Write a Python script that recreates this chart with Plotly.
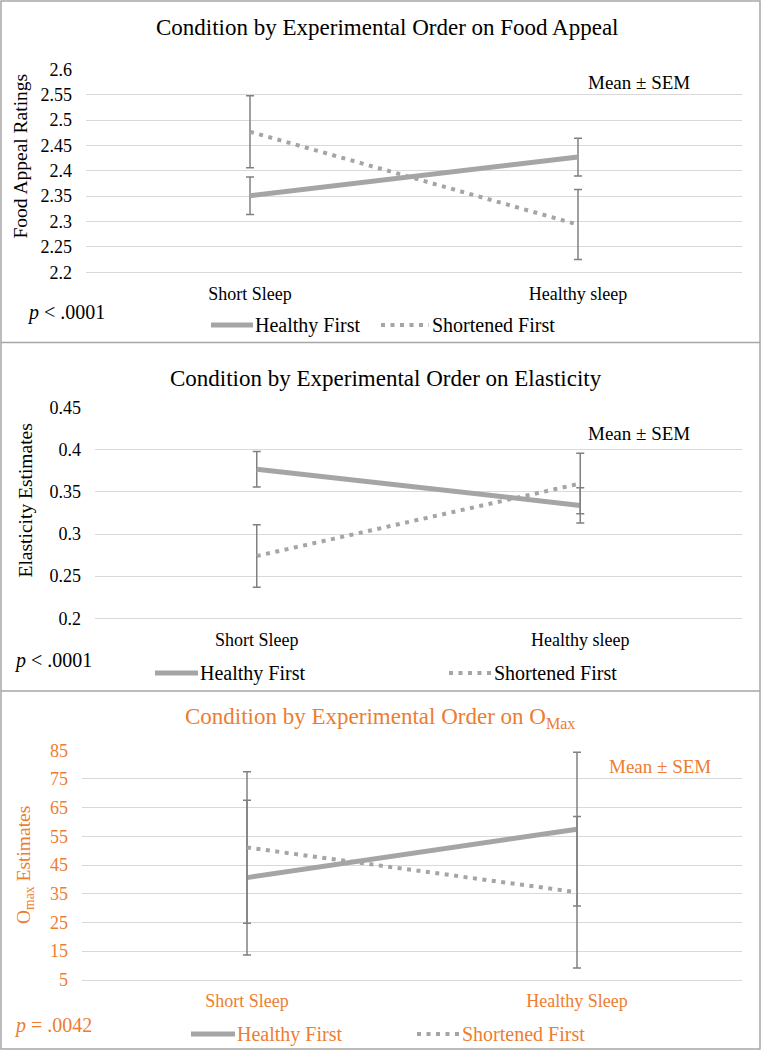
import plotly.graph_objects as go

# ---------------- data ----------------
categories_1 = ["Short Sleep", "Healthy sleep"]
categories_3 = ["Short Sleep", "Healthy Sleep"]

food_healthy_first = [2.351, 2.427]
food_healthy_first_sem = [0.037, 0.037]
food_shortened_first = [2.477, 2.294]
food_shortened_first_sem = [0.071, 0.069]

elast_healthy_first = [0.377, 0.334]
elast_healthy_first_sem = [0.021, 0.021]
elast_shortened_first = [0.274, 0.360]
elast_shortened_first_sem = [0.037, 0.036]

omax_healthy_first = [40.6, 57.5]
omax_healthy_first_sem = [27.0, 26.8]
omax_shortened_first = [51.1, 35.5]
omax_shortened_first_sem = [26.4, 26.4]

food_ticks = [2.2, 2.25, 2.3, 2.35, 2.4, 2.45, 2.5, 2.55, 2.6]
food_ticktext = ["2.2", "2.25", "2.3", "2.35", "2.4", "2.45", "2.5", "2.55", "2.6"]
elast_ticks = [0.2, 0.25, 0.3, 0.35, 0.4, 0.45]
elast_ticktext = ["0.2", "0.25", "0.3", "0.35", "0.4", "0.45"]
omax_ticks = [5, 15, 25, 35, 45, 55, 65, 75, 85]
omax_ticktext = ["5", "15", "25", "35", "45", "55", "65", "75", "85"]

series_names = ["Healthy First", "Shortened First"]

# ---------------- style ----------------
W, H = 761, 1050
FONT = "Liberation Serif"
BLACK = "#000000"
ORANGE = "#ED7D31"
LINE = "#A5A5A5"
ERR = "#808080"
GRID = "#D9D9D9"
FRAME = "#A6A6A6"
DOT = "4px,5.5px"


def px(x):
    return x / W


def py(y):
    return 1 - y / H


fig = go.Figure()

panels = [
    dict(cats=categories_1, hf=food_healthy_first, hfe=food_healthy_first_sem,
         sf=food_shortened_first, sfe=food_shortened_first_sem,
         xa="x", ya="y"),
    dict(cats=categories_1, hf=elast_healthy_first, hfe=elast_healthy_first_sem,
         sf=elast_shortened_first, sfe=elast_shortened_first_sem,
         xa="x2", ya="y2"),
    dict(cats=categories_3, hf=omax_healthy_first, hfe=omax_healthy_first_sem,
         sf=omax_shortened_first, sfe=omax_shortened_first_sem,
         xa="x3", ya="y3"),
]

for p in panels:
    fig.add_trace(go.Scatter(
        x=p["cats"], y=p["hf"], name=series_names[0], mode="lines",
        line=dict(color=LINE, width=5),
        error_y=dict(type="data", array=p["hfe"], visible=True,
                     color=ERR, thickness=1.5, width=4),
        xaxis=p["xa"], yaxis=p["ya"], showlegend=False))
    fig.add_trace(go.Scatter(
        x=p["cats"], y=p["sf"], name=series_names[1], mode="lines",
        line=dict(color=LINE, width=4, dash=DOT),
        error_y=dict(type="data", array=p["sfe"], visible=True,
                     color=ERR, thickness=1.5, width=4),
        xaxis=p["xa"], yaxis=p["ya"], showlegend=False))

# ---------------- axes ----------------
def xaxis(domain, anchor, color):
    return dict(domain=domain, anchor=anchor, type="category", range=[-0.5, 1.5],
                showgrid=False, zeroline=False, showline=True, linecolor=GRID,
                linewidth=1, ticks="", ticklabelstandoff=5, automargin=False,
                tickfont=dict(family=FONT, size=18, color=color), fixedrange=True)


def yaxis(domain, anchor, rng, tv, tt, color):
    return dict(domain=domain, anchor=anchor, range=rng, tickvals=tv, ticktext=tt,
                showgrid=True, gridcolor=GRID, gridwidth=1, zeroline=False,
                showline=False, ticks="", ticklabelstandoff=13, automargin=False,
                tickfont=dict(family=FONT, size=18, color=color), fixedrange=True)


fig.update_layout(
    xaxis=xaxis([px(86), px(742)], "y", BLACK),
    yaxis=yaxis([py(272.3), py(69.3)], "x", [2.2, 2.6], food_ticks, food_ticktext, BLACK),
    xaxis2=xaxis([px(95), px(742)], "y2", BLACK),
    yaxis2=yaxis([py(618.3), py(407.7)], "x2", [0.2, 0.45], elast_ticks, elast_ticktext, BLACK),
    xaxis3=xaxis([px(82), px(742)], "y3", ORANGE),
    yaxis3=yaxis([py(979.7), py(750.3)], "x3", [5, 85], omax_ticks, omax_ticktext, ORANGE),
)

# ---------------- text ----------------
ann = []


def text(t, x, y, size, color, xanchor="center", angle=0):
    ann.append(dict(text=t, x=px(x), y=py(y), xref="paper", yref="paper",
                    xanchor=xanchor, yanchor="middle", showarrow=False,
                    textangle=angle,
                    font=dict(family=FONT, size=size, color=color)))


# titles
text("Condition by Experimental Order on Food Appeal", 387, 28, 23, BLACK)
text("Condition by Experimental Order on Elasticity", 386, 378, 23, BLACK)
text("Condition by Experimental Order on O<sub>Max</sub>", 380, 718, 23, ORANGE)

# y axis titles
text("Food Appeal Ratings", 20, 156.5, 19.5, BLACK, angle=-90)
text("Elasticity Estimates", 25, 500.5, 19.5, BLACK, angle=-90)
text("O<sub>max</sub> Estimates", 25, 865, 19.5, ORANGE, angle=-90)

# Mean ± SEM
text("Mean ± SEM", 638.5, 82, 19, BLACK)
text("Mean ± SEM", 638.5, 433, 19, BLACK)
text("Mean ± SEM", 659.5, 766, 19, ORANGE)

# p values
text("<i>p</i> &lt; .0001", 25, 312, 20, BLACK, xanchor="left")
text("<i>p</i> &lt; .0001", 12, 660, 20, BLACK, xanchor="left")
text("<i>p</i> = .0042", 12, 1025, 20, ORANGE, xanchor="left")

# legends (sample line + label)
shapes = []
legend_rows = [
    # y, hf line x0, x1, sf line x0, x1, color
    (325, 211, 253, 381, 429, BLACK),
    (673, 155, 198, 449, 491, BLACK),
    (1034, 191, 235, 417, 459, ORANGE),
]
for (ly, a0, a1, b0, b1, col) in legend_rows:
    shapes.append(dict(type="line", xref="paper", yref="paper",
                       x0=px(a0), x1=px(a1), y0=py(ly), y1=py(ly),
                       line=dict(color=LINE, width=5)))
    shapes.append(dict(type="line", xref="paper", yref="paper",
                       x0=px(b0), x1=px(b1), y0=py(ly), y1=py(ly),
                       line=dict(color=LINE, width=4, dash=DOT)))
    text(series_names[0], a1, ly, 20, col, xanchor="left")
    text(series_names[1], b1 + 1, ly, 20, col, xanchor="left")

# panel frames
shapes.append(dict(type="rect", xref="paper", yref="paper",
                   x0=px(1), x1=px(760), y0=py(1049), y1=py(1),
                   line=dict(color=FRAME, width=1.5)))
for yy in (342.5, 691):
    shapes.append(dict(type="line", xref="paper", yref="paper",
                       x0=px(1), x1=px(760), y0=py(yy), y1=py(yy),
                       line=dict(color=FRAME, width=1.5)))

fig.update_layout(
    width=W, height=H, margin=dict(l=0, r=0, t=0, b=0, autoexpand=False),
    paper_bgcolor="white", plot_bgcolor="white",
    annotations=ann, shapes=shapes, showlegend=False,
    font=dict(family=FONT, color=BLACK),
)

fig.write_html("out.html", post_script="document.body.style.margin='0px';",
               config={"displayModeBar": False})
